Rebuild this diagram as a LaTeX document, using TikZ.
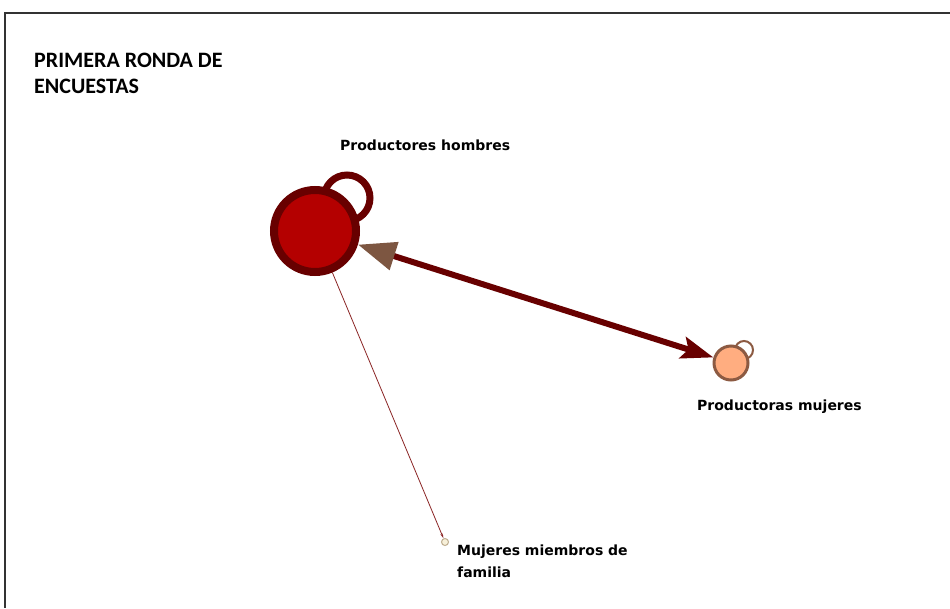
\documentclass[tikz,border=0pt]{standalone}
\usepackage{fontspec}
\setmainfont{DejaVu Sans}
\newfontfamily\titlefont{Carlito}
\usetikzlibrary{arrows.meta}
\definecolor{dred}{HTML}{680000}
\definecolor{bigfill}{HTML}{B40000}
\definecolor{brownA}{HTML}{7D5641}
\definecolor{peach}{HTML}{FFAD80}
\definecolor{brownB}{HTML}{8C5A42}
\definecolor{cream}{HTML}{F7F0D9}
\definecolor{creamline}{HTML}{BFAE90}
\definecolor{thinred}{HTML}{8B2525}
\tikzset{
  lbl/.style={font=\fontsize{14}{17}\selectfont\bfseries, anchor=base west, inner sep=0pt},
  ttl/.style={font=\titlefont\fontsize{22}{26}\selectfont\bfseries, align=left, anchor=base west, inner sep=0pt},
}
\begin{document}
\begin{tikzpicture}[x=1pt,y=-1pt]
\useasboundingbox (0,0) rectangle (950,608);
\fill[white] (0,0) rectangle (950,608);
\draw[line width=2pt, black!80] (950,13) -- (5,13) -- (5,608);
% loops
\draw[dred, line width=7pt, fill=white] (347,198) circle (23);
\draw[brownB, line width=2pt, fill=white] (744,350) circle (9);
% nodes
\node[circle, draw=dred, fill=bigfill, line width=8pt, minimum size=82pt, inner sep=0pt] (ph) at (315,231) {};
\node[circle, draw=brownB, fill=peach, line width=3pt, minimum size=34pt, inner sep=0pt] (pm) at (731,363) {};
\node[circle, draw=creamline, fill=cream, line width=1pt, minimum size=7pt, inner sep=0pt] (mf) at (445,542) {};
% edges
\draw[thinred, line width=0.8pt, -{Stealth[length=5pt,width=2.5pt]}] (ph) -- (mf);
\draw[dred, line width=6pt, {Triangle[length=38pt,width=28pt,color=brownA]}-{Stealth[length=32pt,width=22pt,inset=6pt]}] (ph) -- (pm);
% labels
\node[ttl] (title) at (34,93) {PRIMERA RONDA DE\\ENCUESTAS};
\node[lbl] (l1) at (340,150) {Productores hombres};
\node[lbl] (l2) at (697,410) {Productoras mujeres};
\node[lbl, align=left, font=\fontsize{14}{22}\selectfont\bfseries] (l3) at (457,577) {Mujeres miembros de\\familia};
\end{tikzpicture}
\end{document}
